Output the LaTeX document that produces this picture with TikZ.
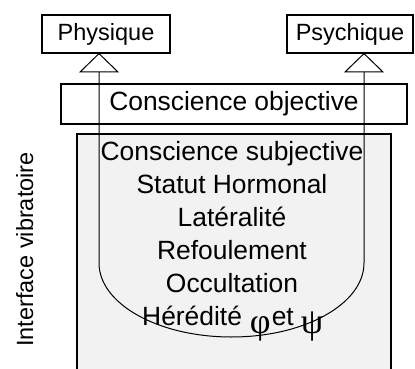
\documentclass[tikz,border=0pt]{standalone}
\usepackage{fontspec}
\setmainfont{Liberation Sans}
\newfontfamily\greekfont{Liberation Serif}
\definecolor{boxgray}{HTML}{F2F2F2}
\tikzset{
  labelbox/.style={draw=black, line width=1.2pt, fill=white, inner sep=0pt, align=center},
  big/.style={font=\fontsize{26.4}{30}\selectfont},
  small/.style={font=\fontsize{23.5}{27}\selectfont},
  stackline/.style={big, anchor=base, inner sep=0pt},
  openhead/.style={draw=black, line width=1pt, fill=white, line join=miter}
}
\newcommand{\gk}[1]{\raisebox{-8pt}{\greekfont\fontsize{36}{40}\selectfont #1}}
\begin{document}
\begin{tikzpicture}[x=1pt, y=-1pt]
\useasboundingbox (0,0) rectangle (415,369);
\fill[white] (0,0) rectangle (415,369);
\begin{scope}
\clip (0,0) rectangle (415,369);
\draw[line width=1.2pt, fill=boxgray] (77,134) rectangle (391,380);
\end{scope}
% boxes
\node[labelbox, small, minimum width=128pt, minimum height=38pt] (phys) at (106,34) {Physique};
\node[labelbox, small, minimum width=126pt, minimum height=38pt] (psy) at (350,34) {Psychique};
\node[labelbox, big, minimum width=346pt, minimum height=40pt] (obj) at (234,104) {Conscience objective};
% U connector
\coordinate (L) at (99,263);
\coordinate (R) at (364,263);
\coordinate (Lb) at (99,72);
\coordinate (Rb) at (364,72);
\draw[line width=1pt]
  (Lb) -- (L) arc[start angle=180, end angle=0, x radius=132.5, y radius=74] -- (Rb);
% open triangle heads
\draw[openhead] (phys.south -| Lb) -- ([xshift=19pt]Lb) -- ([xshift=-19pt]Lb) -- cycle;
\draw[openhead] (psy.south -| Rb) -- ([xshift=19pt]Rb) -- ([xshift=-19pt]Rb) -- cycle;
% texts
\node[stackline] (t1) at (232,160) {Conscience subjective};
\node[stackline] (t2) at (232,193) {Statut Hormonal};
\node[stackline] (t3) at (232,226) {Latéralité};
\node[stackline] (t4) at (232,259) {Refoulement};
\node[stackline] (t5) at (232,292) {Occultation};
\node[big, anchor=base west, inner sep=0pt] (t6) at (142,325) {Hérédité\hspace{8pt}\gk{φ}\hspace{1pt}et\hspace{7pt}\gk{ψ}};
\node[small, rotate=90, anchor=base, inner sep=0pt] (iv) at (33,249.5) {Interface vibratoire};
\end{tikzpicture}
\end{document}
